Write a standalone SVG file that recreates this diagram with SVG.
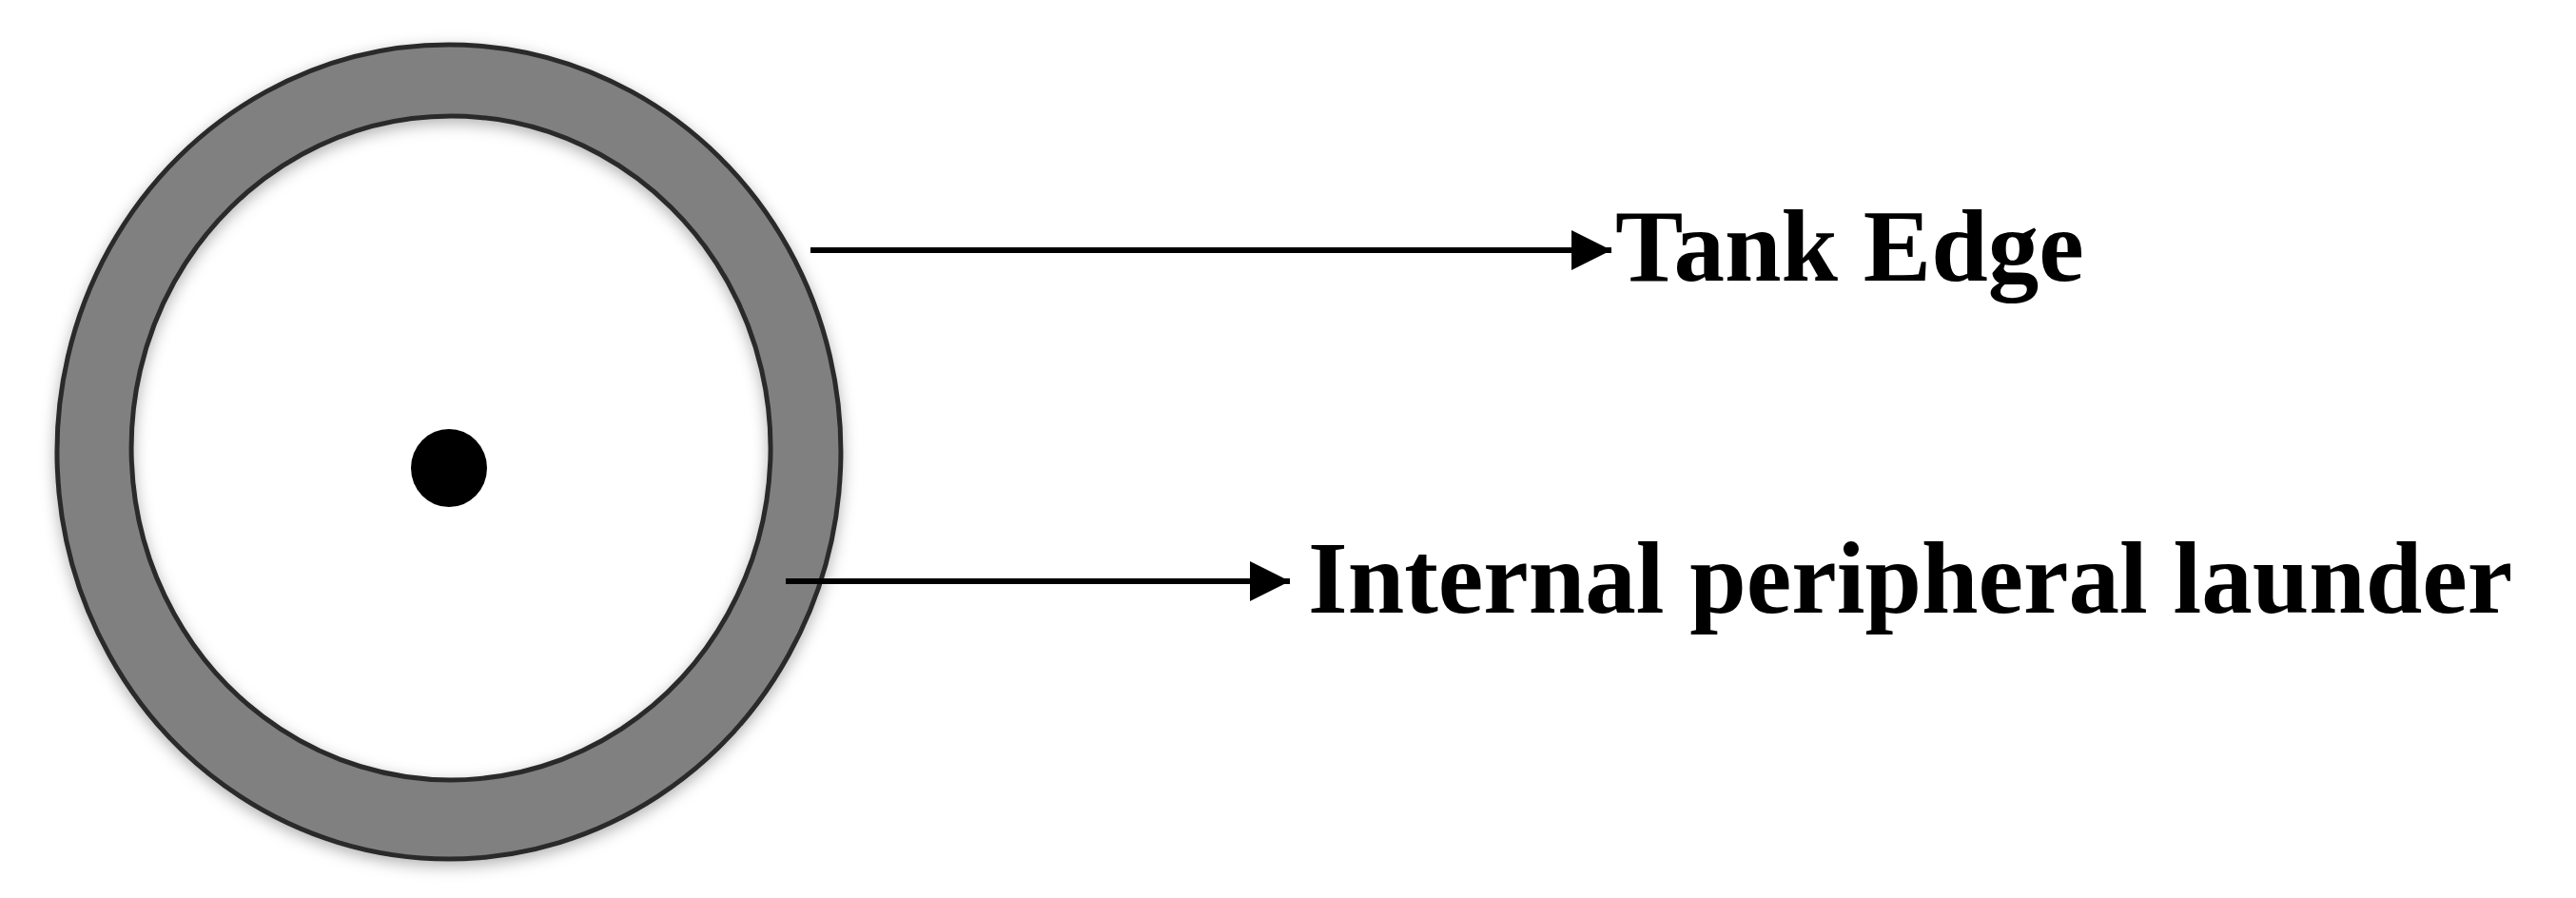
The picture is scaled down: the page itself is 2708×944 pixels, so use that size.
<svg xmlns="http://www.w3.org/2000/svg" width="2708" height="944" viewBox="0 0 2708 944">
<style>
.ring{fill:#808080;fill-rule:evenodd;stroke:#2a2a2a;stroke-width:5}
.conn{stroke:#000;stroke-width:6;fill:none}
.lbl{font-family:"Liberation Serif","Times New Roman",serif;font-weight:bold;font-size:107px;fill:#000}
</style>
<defs>
<filter id="sh" x="-10%" y="-10%" width="120%" height="120%">
<feDropShadow dx="0" dy="5" stdDeviation="8" flood-color="#000" flood-opacity="0.3"/>
</filter>
<marker id="ah" viewBox="0 0 10 10" refX="10" refY="5" markerWidth="8" markerHeight="7" markerUnits="strokeWidth" orient="auto">
<path d="M0,0 L10,5 L0,10 Z" fill="#000"/>
</marker>
</defs>
<rect width="2708" height="944" fill="#fff"/>
<g id="tank">
<path class="ring" filter="url(#sh)" d="M472,47 A412,428 0 1 1 471.9,47 Z M474,122 A336,349 0 1 0 474.1,122 Z"/>
<ellipse cx="472" cy="492" rx="40" ry="41" fill="#000"/>
</g>
<g id="connectors">
<line class="conn" x1="852" y1="263" x2="1694" y2="263" marker-end="url(#ah)"/>
<line class="conn" x1="826" y1="611" x2="1356" y2="611" marker-end="url(#ah)"/>
</g>
<g id="label-tank-edge">
<text class="lbl" x="1698" y="295">Tank Edge</text>
</g>
<g id="label-launder">
<text class="lbl" x="1375" y="644">Internal peripheral launder</text>
</g>
</svg>
